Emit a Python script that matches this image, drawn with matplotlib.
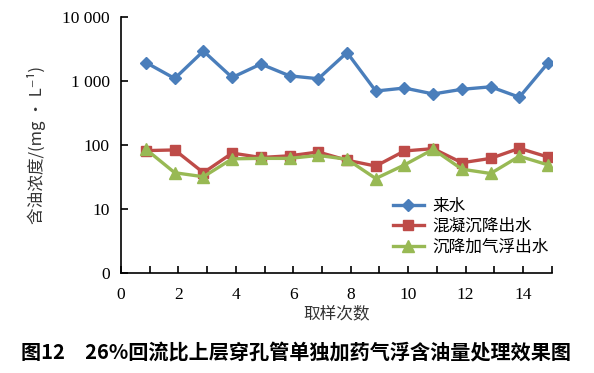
import numpy as np
import matplotlib
matplotlib.use('Agg')
from matplotlib import pyplot as plt
from matplotlib.ticker import NullLocator

plt.rcParams['font.family'] = 'serif'
plt.rcParams['font.serif'] = ['Liberation Serif', 'DejaVu Serif']

## data
sample_no = [0.87, 1.87, 2.87, 3.87, 4.87, 5.87, 6.87, 7.87, 8.87, 9.87,
             10.87, 11.87, 12.87, 13.87, 14.87]
inflow = [1950, 1100, 2950, 1140, 1850, 1210, 1090, 2800, 700, 780,
          630, 745, 815, 560, 1930]
coag_settle = [82, 84, 37, 75, 64, 68, 78, 58, 47, 81,
               88, 53, 62, 89, 65]
settle_float = [86, 37, 32, 61, 62, 62, 69, 60, 30, 49,
                86, 42, 36, 67, 49]
series_names = ['来水', '混凝沉降出水', '沉降加气浮出水']
ytick_vals = [1, 10, 100, 1000, 10000]
ytick_text = ['0', '10', '100', '1 000', '10 000']
xtick_vals = [0, 2, 4, 6, 8, 10, 12, 14]

cjk = ['Noto Sans CJK SC', 'DejaVu Sans']
num_font = 'Liberation Serif'

fig = plt.figure(figsize=(5.94, 3.73), dpi=100)
ax = fig.add_axes([0.2037, 0.268, 0.7253, 0.686])

ax.plot(sample_no, inflow, color='#4A7EBB', lw=2.4, marker='D', ms=6.5, label=series_names[0])
ax.plot(sample_no, coag_settle, color='#BE4B48', lw=2.4, marker='s', ms=7.5, label=series_names[1])
ax.plot(sample_no, settle_float, color='#98B954', lw=2.4, marker='^', ms=8, label=series_names[2])

ax.set_yscale('log')
ax.set_ylim(1, 10000)
ax.set_xlim(0, 15)
ax.set_yticks(ytick_vals, ytick_text, fontfamily=num_font, fontsize=12.5)
ax.yaxis.set_minor_locator(NullLocator())
ax.set_xticks(xtick_vals, [str(v) for v in xtick_vals], fontfamily=num_font, fontsize=12.5)
ax.set_xticks(np.arange(1, 16, 1), minor=True)

for s in ['top', 'right']:
    ax.spines[s].set_visible(False)
for s in ['left', 'bottom']:
    ax.spines[s].set_linewidth(1.2)
ax.tick_params(axis='y', which='major', direction='in', length=5, width=1.2, pad=8)
ax.tick_params(axis='x', which='major', direction='in', length=5, width=1.2, pad=10)
ax.tick_params(axis='x', which='minor', direction='in', length=5, width=1.2)

ax.set_ylabel('含油浓度/(mg • L⁻¹)', family=cjk, fontsize=12, labelpad=12, color='#333333')
ax.set_xlabel('取样次数', family=cjk, fontsize=12, labelpad=2, color='#333333')

leg = ax.legend(loc='upper left', bbox_to_anchor=(0.615, 0.32), frameon=False,
                prop={'family': cjk, 'size': 12}, handlelength=1.9,
                handletextpad=0.5, labelspacing=0.2, borderaxespad=0)

fig.text(0.035, 0.055, '图12\u2002\u200226%回流比上层穿孔管单独加药气浮含油量处理效果图',
         family=cjk, fontsize=14.5, fontweight='bold', ha='left', va='center')

fig.savefig('out.png', dpi=100)
